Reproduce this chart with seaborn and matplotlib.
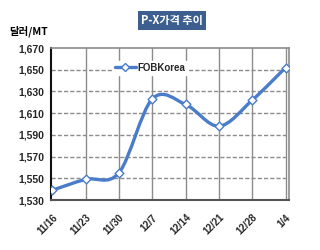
import matplotlib
matplotlib.use("Agg")
import matplotlib.pyplot as plt
import seaborn as sns
import numpy as np
import pandas as pd
from matplotlib.path import Path
from matplotlib.patches import PathPatch
from matplotlib.lines import Line2D

dates = ["11/16", "11/23", "11/30", "12/7", "12/14", "12/21", "12/28", "1/4"]
fob_korea = [1539, 1549, 1555, 1623, 1618, 1598, 1622, 1652]
yticks = [1530, 1550, 1570, 1590, 1610, 1630, 1650, 1670]

sns.set_theme(style="white")
plt.rcParams['font.family'] = ['Liberation Sans', 'Noto Sans CJK KR', 'DejaVu Sans']

df = pd.DataFrame({"date": dates, "value": fob_korea})
df["pos"] = np.arange(len(dates))

fig = plt.figure(figsize=(3.2, 2.5), dpi=100)
ax = fig.add_axes([0.159, 0.2, 0.744, 0.608])

color = "#4a7cc9"

# smoothed line (Bezier curve through data points, like Excel smoothing)
pts = df[["pos", "value"]].to_numpy(dtype=float)
n = len(pts)
verts = [pts[0]]
codes = [Path.MOVETO]
for i in range(n - 1):
    p0 = pts[i - 1] if i > 0 else pts[i]
    p1 = pts[i]
    p2 = pts[i + 1]
    p3 = pts[i + 2] if i + 2 < n else pts[i + 1]
    c1 = p1 + (p2 - p0) / 6.0
    c2 = p2 - (p3 - p1) / 6.0
    verts += [c1, c2, p2]
    codes += [Path.CURVE4] * 3
ax.add_patch(PathPatch(Path(verts, codes), facecolor="none", edgecolor=color,
                       lw=2.4, zorder=3, capstyle="round"))

sns.scatterplot(data=df, x="pos", y="value", marker="D", s=20, color="white",
                edgecolor=color, linewidth=1.0, ax=ax, zorder=4, legend=False)

ax.set_xlim(-0.04, 7.1)
ax.set_ylim(1530, 1670)
ax.set_yticks(yticks)
ax.set_yticklabels([f"{v:,}" for v in yticks], fontsize=7.5, fontweight="bold")
ax.set_xticks(df["pos"])
ax.set_xticklabels(dates, rotation=45, ha="right", rotation_mode="anchor",
                   fontsize=7, fontweight="bold")
ax.set_xlabel("")
ax.set_ylabel("")
ax.tick_params(axis="y", length=0, pad=5)
ax.tick_params(axis="x", length=0, pad=9)

for x in df["pos"][1:]:
    ax.axvline(x, color="#8c8c8c", lw=1.0, zorder=1)
for y in yticks[1:-1]:
    ax.axhline(y, color="#8c8c8c", lw=1.0, ls=(0, (3, 1.5)), zorder=1)

for side in ["top", "right"]:
    ax.spines[side].set_color("#8c8c8c")
    ax.spines[side].set_linewidth(1.2)
ax.spines["left"].set_color("#111111")
ax.spines["left"].set_linewidth(1.5)
ax.spines["bottom"].set_color("#555555")
ax.spines["bottom"].set_linewidth(1.5)

handle = Line2D([], [], color=color, lw=2.4, marker="D", markersize=4.5,
                markerfacecolor="white", markeredgecolor=color)
leg = ax.legend([handle], ["FOBKorea"], loc="center left", bbox_to_anchor=(0.26, 0.87),
                frameon=True, fancybox=False, framealpha=1, edgecolor="white",
                fontsize=7, handlelength=2.2, handletextpad=0.1,
                borderpad=0.2, borderaxespad=0)
for t in leg.get_texts():
    t.set_fontweight("bold")

fig.text(0.537, 0.918, "P-X가격 추이", ha="center", va="center", color="white",
         fontsize=8, fontweight="bold", family=['Noto Sans CJK KR', 'DejaVu Sans'],
         bbox=dict(boxstyle="square,pad=0.25", facecolor="#3d5f8f", edgecolor="none"))
fig.text(0.03, 0.875, "달러/MT", ha="left", va="center", color="black",
         fontsize=7.5, fontweight="bold", family=['Noto Sans CJK KR', 'DejaVu Sans'])

fig.savefig("out.png", dpi=100, facecolor="white")
